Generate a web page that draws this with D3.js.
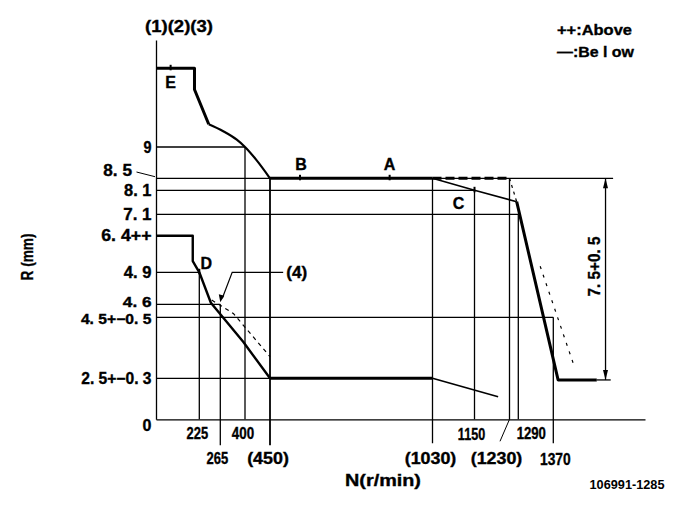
<!DOCTYPE html>
<html>
<head>
<meta charset="utf-8">
<script src="https://cdn.jsdelivr.net/npm/d3@7/dist/d3.min.js"></script>
<style>
  body { margin: 0; background: #fff; }
  text { font-family: "Liberation Sans", Arial, sans-serif; font-weight: bold; fill: #000; stroke: #000; stroke-width: 0.35px; }
</style>
</head>
<body>
<script>
// ---------------- DATA ----------------
const rpmTicks  = [225, 265, 400, 450, 1030, 1150, 1230, 1290, 1370];
const rpmLabels = ["225", "265", "400", "(450)", "(1030)", "1150", "(1230)", "1290", "1370"];
const rTicks  = [9, 8.5, 8.1, 7.1, 6.4, 4.9, 4.6, 4.5, 2.5];
const rLabels = ["9", "8. 5", "8. 1", "7. 1", "6. 4++", "4. 9", "4. 6", "4. 5+\u22120. 5", "2. 5+\u22120. 3"];

// full-load (upper) curve
const fullStepN  = [0, 200, 200, 243];
const fullStepR  = [10.3, 10.3, 9.95, 9.375];
const fullCurveN = [243, 281, 355, 400, 423, 450];
const fullCurveR = [9.375, 9.26, 9.12, 9.0, 8.79, 8.5];
const plateauN = [450, 1030];
const plateauR = [8.5, 8.5];
const aboveN = [1030, 1230];
const aboveR = [8.5, 8.5];
const aboveDropN = [1230, 1279];
const aboveDropR = [8.5, 7.625];
const belowN = [1030, 1150, 1279];
const belowR = [8.5, 8.1, 7.625];
const cutoffN = [1279, 1382, 1479];
const cutoffR = [7.625, 2.4, 2.4];
const cutoffAltN = [1340, 1420];
const cutoffAltR = [5.15, 2.99];

// lower (idle) curve
const idleN = [0, 191, 191, 225, 247, 390, 450];
const idleR = [6.4, 6.4, 5.36, 4.9, 4.615, 3.7, 2.5];
const idleFlatN = [450, 1030];
const idleFlatR = [2.5, 2.5];
const idleTailN = [1030, 1204];
const idleTailR = [2.5, 1.38];
const curve4N = [248.6, 336, 450];
const curve4R = [4.64, 4.53, 3.21];

// marked points
const pointNames = ["E", "B", "A", "C", "D"];
const pointN = [76, 557, 877, 1150, 225];
const pointR = [10.3, 8.5, 8.5, 8.1, 4.9];

// guide lines
const hGuideR   = [9, 8.5, 8.1, 7.1, 4.9, 4.6, 4.5, 2.5];
const hGuideEnd = [400, 1520, 1150, 1290, 225, 265, 1370, 450];
const vGuideN   = [225, 265, 400, 450, 1030, 1150, 1230, 1290, 1370];
const vGuideTop = [4.9, 4.6, 9, 8.5, 8.5, 8.1, 8.5, 7.1, 4.5];

// dimension 7.5
const dimN = 1501;
const dimR = [8.5, 2.4];
const dimLabel = "7. 5+0. 5";

// ---------------- LAYOUT ----------------
const W = 685, H = 517;
const xDomain = [0, 225, 265, 400, 450, 1030, 1150, 1230, 1290, 1370, 1600];
const xRange  = [156, 199.3, 220.3, 245, 270, 432.5, 474.5, 509.5, 518.3, 553.3, 645];
const yDomain = [0, 2.5, 4.5, 4.6, 4.9, 6.4, 7.1, 8.1, 8.5, 9, 10.3, 10.8];
const yRange  = [419.3, 378.3, 317.3, 304.3, 272.3, 235.7, 214.3, 190.3, 178.3, 147, 68.3, 40];
const rLabelW   = [8, 28.7, 27.4, 28.3, 50.3, 27.7, 28.7, 70.6, 70.3];
const rLabelDy  = [0, -8, 0, 0, 0, 0, -2, 2, 0];
const rLabelSz  = [16, 16, 16, 16, 16, 16, 14, 14, 16];
const xLabelW   = [21.6, 21.7, 22.3, 41.7, 51.7, 27.3, 51.7, 29.3, 30.7];
const xRow = [0, 1, 0, 1, 1, 0, 1, 0, 1];
const xDx  = [-2, -3, -2, -2, -2, -3, -13, 13, 2];

const x = d3.scaleLinear().domain(xDomain).range(xRange);
const y = d3.scaleLinear().domain(yDomain).range(yRange);

const svg = d3.select("body").append("svg").attr("width", W).attr("height", H);
const zip = (a, b) => a.map((v, i) => [v, b[i]]);
const line = d3.line().x(d => x(d[0])).y(d => y(d[1]));
const lineCurve = d3.line().x(d => x(d[0])).y(d => y(d[1])).curve(d3.curveMonotoneX);

const THIN = 1.3, THICK = 3;

// text helper: scale horizontally to a target width (keeps glyph height)
function label(px, py, s, o) {
  o = o || {};
  const g = svg.append("g");
  const t = g.append("text")
    .attr("text-anchor", o.anchor || "middle")
    .attr("dominant-baseline", "central")
    .attr("font-size", o.size || 16)
    .text(s);
  if (o.light) t.style("stroke-width", "0px");
  let sx = 1;
  if (o.len) {
    const w = t.node().getComputedTextLength();
    if (w > 0) sx = o.len / w;
  }
  g.attr("transform", `translate(${px},${py})${o.rotate ? ` rotate(${o.rotate})` : ""} scale(${sx},1)`);
  return g;
}

// axes
svg.append("g").attr("transform", `translate(0,${y(0)})`)
  .call(d3.axisBottom(x).tickValues([]).tickSizeOuter(0))
  .call(g => g.select(".domain").attr("stroke", "#000").attr("stroke-width", THIN));
svg.append("g").attr("transform", `translate(${x(0)},0)`)
  .call(d3.axisLeft(y).tickValues([]).tickSizeOuter(0))
  .call(g => g.select(".domain").attr("stroke", "#000").attr("stroke-width", THIN));

// horizontal guides
hGuideR.forEach((r, i) => {
  svg.append("line").attr("x1", x(0)).attr("x2", x(hGuideEnd[i]))
    .attr("y1", y(r)).attr("y2", y(r)).attr("stroke", "#000").attr("stroke-width", THIN);
});
// vertical guides
const belowExt = {265: 26, 450: 26, 1030: 24, 1370: 24};
vGuideN.forEach((n, i) => {
  svg.append("line").attr("x1", x(n)).attr("x2", x(n))
    .attr("y1", y(vGuideTop[i])).attr("y2", y(0) + (belowExt[n] || 0))
    .attr("stroke", "#000").attr("stroke-width", n === 450 ? 1.8 : THIN);
});
// leader for 1230
svg.append("line").attr("x1", x(1230)).attr("y1", y(0)).attr("x2", x(1230) - 9.5).attr("y2", y(0) + 22)
  .attr("stroke", "#000").attr("stroke-width", 1);

// curves
function path(d, gen, w, dash) {
  svg.append("path").attr("d", gen(d)).attr("fill", "none").attr("stroke", "#000")
    .attr("stroke-width", w).attr("stroke-linejoin", "round")
    .attr("stroke-dasharray", dash || null);
}
path(zip(fullStepN, fullStepR), line, THICK);
path(zip(fullCurveN, fullCurveR), lineCurve, 2.2);
path(zip(plateauN, plateauR), line, THICK);
path(zip(aboveN, aboveR), line, THICK, "9,4");
path(zip(aboveDropN, aboveDropR), line, 1.2, "3,4");
path(zip(belowN, belowR), line, 1.6);
path(zip(cutoffN, cutoffR), line, THICK);
path(zip(cutoffAltN, cutoffAltR), line, 1.2, "3,6");
path(zip(idleN, idleR), line, 2.4);
path(zip(idleFlatN, idleFlatR), line, THICK);
path(zip(idleTailN, idleTailR), line, 1.6);
path(zip(curve4N, curve4R), line, 1.2, "4,4");

// point markers and labels
const ptOff = {E: [0, 14], B: [1, -14], A: [0, -14], C: [-16, 13], D: [7, -9]};
pointNames.forEach((nm, i) => {
  const px = x(pointN[i]), py = y(pointR[i]);
  svg.append("line").attr("x1", px).attr("x2", px).attr("y1", py - 3.5).attr("y2", py + 2)
    .attr("stroke", "#000").attr("stroke-width", 2);
  label(px + ptOff[nm][0], py + ptOff[nm][1], nm, {size: 16});
});

// y tick labels
rTicks.forEach((r, i) => {
  const special = r === 8.5;
  label(special ? 132 : 151.5, y(r) + rLabelDy[i], rLabels[i], {anchor: "end", size: rLabelSz[i], len: rLabelW[i]});
});
svg.append("line").attr("x1", 136.5).attr("y1", y(8.5) - 6.3).attr("x2", x(0) - 1).attr("y2", y(8.5) - 1.6)
  .attr("stroke", "#000").attr("stroke-width", 1);

// x tick labels
rpmTicks.forEach((n, i) => {
  label(x(n) + xDx[i], xRow[i] ? 459 : 434, rpmLabels[i], {size: 16, len: xLabelW[i]});
});
label(147, 425, "0", {size: 16});

// (4) callout
const tip = [265, 4.62], knee = [330, 4.9], end4 = [497, 4.9];
svg.append("polyline")
  .attr("points", [[x(end4[0]), y(end4[1])], [x(knee[0]), y(knee[1])], [x(tip[0]) + 2, y(tip[1]) - 4]].map(p => p.join(",")).join(" "))
  .attr("fill", "none").attr("stroke", "#000").attr("stroke-width", 1.2);
{
  const tx = x(tip[0]), ty = y(tip[1]);
  svg.append("path").attr("d", `M${tx},${ty} L${tx - 1.5},${ty - 8} L${tx + 4},${ty - 6.5} Z`).attr("fill", "#000");
}
label(x(end4[0]) + 3, y(end4[1]), "(4)", {anchor: "start", size: 16, len: 21});

// 7.5 dimension
{
  const dx = x(dimN), yt = y(dimR[0]), yb = y(dimR[1]);
  svg.append("line").attr("x1", dx).attr("x2", dx).attr("y1", yt).attr("y2", yb).attr("stroke", "#000").attr("stroke-width", THIN);
  svg.append("path").attr("d", `M${dx},${yt} L${dx - 2.5},${yt + 10} L${dx + 2.5},${yt + 10} Z`).attr("fill", "#000");
  svg.append("path").attr("d", `M${dx},${yb} L${dx - 2.5},${yb - 10} L${dx + 2.5},${yb - 10} Z`).attr("fill", "#000");
  svg.append("line").attr("x1", x(1479)).attr("x2", x(1514)).attr("y1", yb).attr("y2", yb).attr("stroke", "#000").attr("stroke-width", THIN);
  label(dx - 11, 266.5, dimLabel, {size: 16, rotate: -90, len: 60});
}

// titles / legend
label(179, 26, "(1)(2)(3)", {size: 16, len: 68});
label(557, 30, "++:Above", {anchor: "start", size: 15, len: 75});
label(557, 52, "\u2014:Be l ow", {anchor: "start", size: 15, len: 77});
label(28, 257, "R (mm)", {size: 16, rotate: -90, len: 47});
label(383, 481, "N(r/min)", {size: 16, len: 76});
label(627, 484, "106991-1285", {size: 13, len: 75, light: true});
</script>
</body>
</html>
